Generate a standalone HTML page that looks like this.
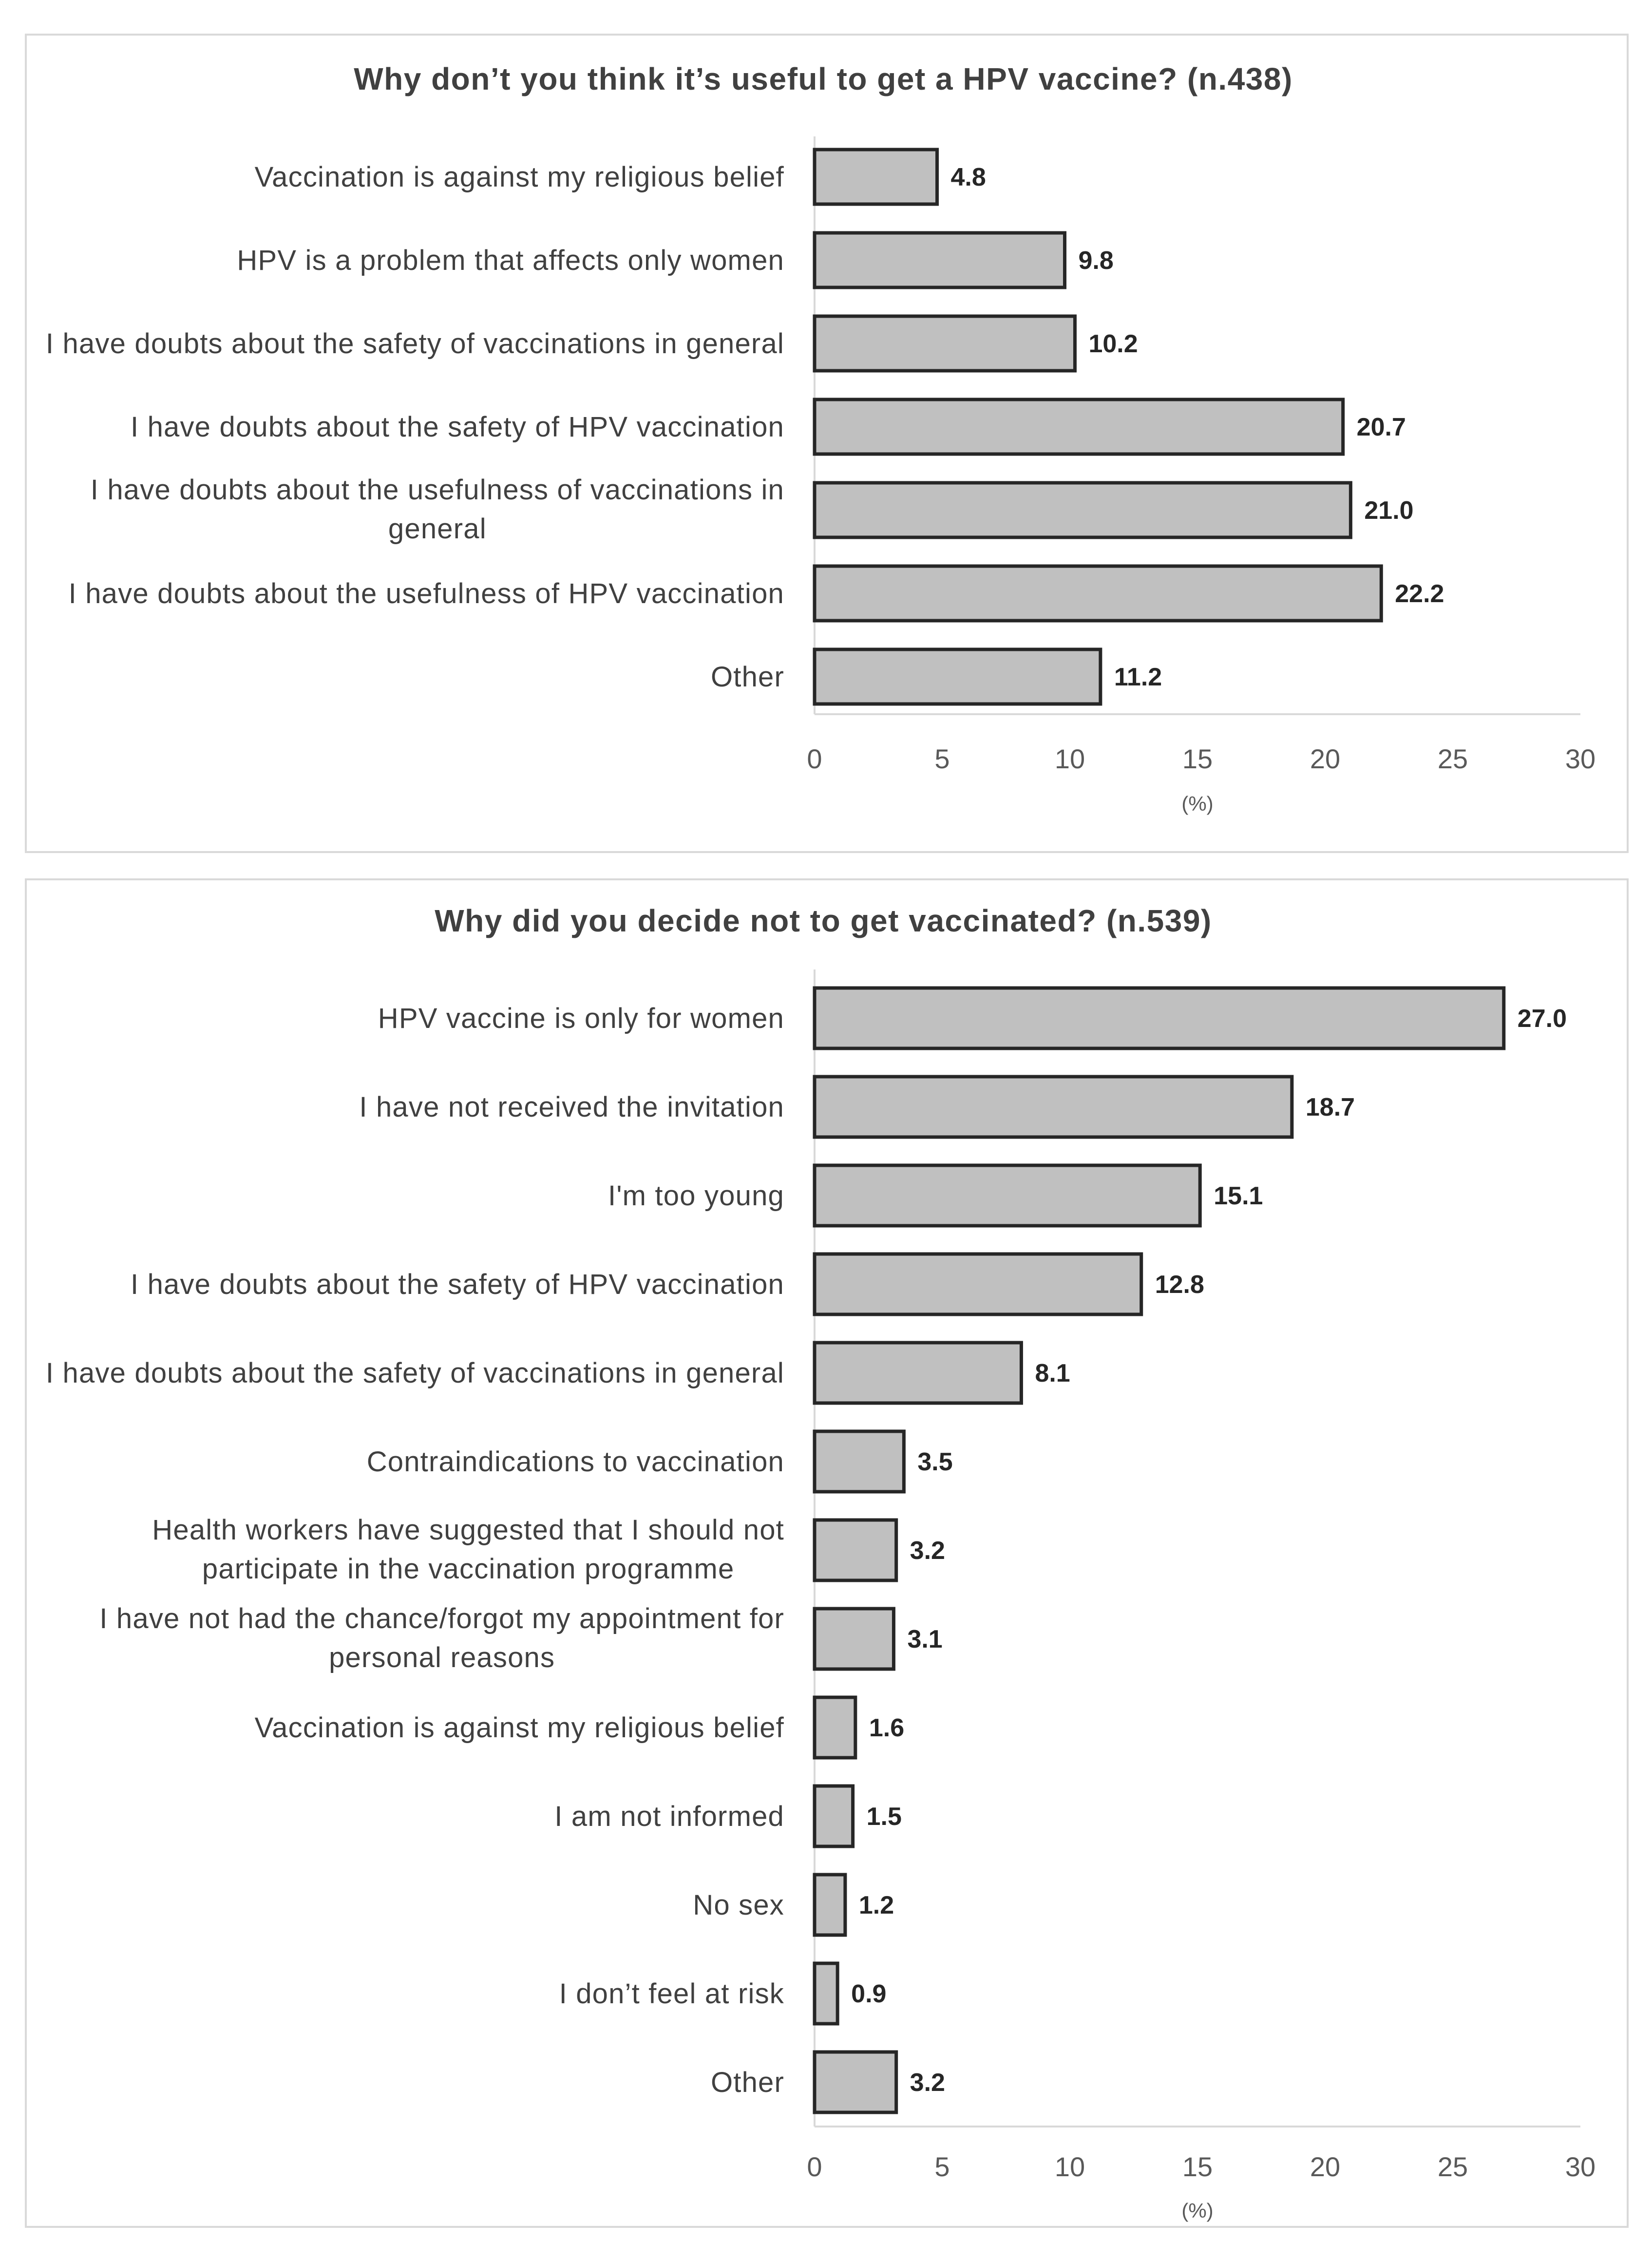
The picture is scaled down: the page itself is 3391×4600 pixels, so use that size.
<!DOCTYPE html>
<html><head><meta charset="utf-8">
<style>
html,body{margin:0;padding:0;background:#fff;}
svg{display:block;font-family:"Liberation Sans",sans-serif;}
</style></head>
<body>
<svg id="chart" width="3391" height="4600" viewBox="0 0 3391 4600" xmlns="http://www.w3.org/2000/svg">
<rect x="0" y="0" width="3391" height="4600" fill="#fff"/>
</svg>
<script>
const NS='http://www.w3.org/2000/svg';
const svg=document.getElementById('chart');

const categories1=[["Vaccination is against my religious belief"],["HPV is a problem that affects only women"],["I have doubts about the safety of vaccinations in general"],["I have doubts about the safety of HPV vaccination"],["I have doubts about the usefulness of vaccinations in","general"],["I have doubts about the usefulness of HPV vaccination"],["Other"]];
const values1=[4.8,9.8,10.2,20.7,21.0,22.2,11.2];
const valueLabels1=["4.8","9.8","10.2","20.7","21.0","22.2","11.2"];

const categories2=[["HPV vaccine is only for women"],["I have not received the invitation"],["I'm too young"],["I have doubts about the safety of HPV vaccination"],["I have doubts about the safety of vaccinations in general"],["Contraindications to vaccination"],["Health workers have suggested that I should not","participate in the vaccination programme"],["I have not had the chance/forgot my appointment for","personal reasons"],["Vaccination is against my religious belief"],["I am not informed"],["No sex"],["I don\u2019t feel at risk"],["Other"]];
const values2=[27.0,18.7,15.1,12.8,8.1,3.5,3.2,3.1,1.6,1.5,1.2,0.9,3.2];
const valueLabels2=["27.0","18.7","15.1","12.8","8.1","3.5","3.2","3.1","1.6","1.5","1.2","0.9","3.2"];

const xTicks=[0,5,10,15,20,25,30];
const xTickLabels=["0","5","10","15","20","25","30"];

function mk(tag,attrs,parent){const e=document.createElementNS(NS,tag);for(const k in attrs)e.setAttribute(k,attrs[k]);(parent||svg).appendChild(e);return e;}

function drawChart(cfg,cats,vals,labels,prefix){
  const g=mk('g',{});
  
  
  const frame=mk('rect',{x:cfg.fx,y:cfg.fy,width:cfg.fw,height:cfg.fh,fill:'#fff',stroke:'#d9d9d9','stroke-width':4},g);
  
  
  const t=mk('text',{x:1690,y:cfg.titleY,'text-anchor':'middle','font-size':64,'font-weight':'bold',fill:'#404040','letter-spacing':1.5},g);
  t.textContent=cfg.title;
  
  
  const x0=1672,x1=3244;
  const xs=v=>x0+(v-0)/(30-0)*(x1-x0);
  const yc=i=>cfg.y0+i*cfg.step;
  const va=mk('line',{x1:x0,x2:x0,y1:cfg.axisTop,y2:cfg.axisY,stroke:'#d9d9d9','stroke-width':4},g);
  
  
  const ha=mk('line',{x1:x0,x2:x1,y1:cfg.axisY,y2:cfg.axisY,stroke:'#d9d9d9','stroke-width':4},g);
  
  
  xTicks.forEach((v,i)=>{
    const tl=mk('text',{x:xs(v),y:cfg.tickY,'text-anchor':'middle','font-size':56,fill:'#595959'},g);
    tl.textContent=xTickLabels[i];
    
    
  });
  const unit=mk('text',{x:xs(15),y:cfg.unitY,'text-anchor':'middle','font-size':42,fill:'#595959'},g);
  unit.textContent='(%)';
  
  
  vals.forEach((v,i)=>{
    const c=yc(i);
    const b=mk('rect',{x:x0,y:c-cfg.bh/2,width:xs(v)-x0,height:cfg.bh,fill:'#c0c0c0',stroke:'#262626','stroke-width':7},g);
    
    
    const vl=mk('text',{x:xs(v)+28,y:c+18,'font-size':52,'font-weight':'bold',fill:'#262626'},g);
    vl.textContent=labels[i];
    
    
    const lines=cats[i];
    const lg=mk('g',{},g);
    
    
    const st={'font-size':58,fill:'#404040','letter-spacing':1.2};
    if(lines.length===1){
      const tt=mk('text',Object.assign({x:1610,y:c+20,'text-anchor':'end'},st),lg);
      tt.textContent=lines[0];
    }else{
      const l1=mk('text',Object.assign({x:1610,y:c-22,'text-anchor':'end'},st),lg);
      l1.textContent=lines[0];
      const w=l1.getComputedTextLength();
      const l2=mk('text',Object.assign({x:1610-w/2,y:c+58,'text-anchor':'middle'},st),lg);
      l2.textContent=lines[1];
    }
  });
}

drawChart({fx:53,fy:71,fw:3288,fh:1678,title:'Why don\u2019t you think it\u2019s useful to get a HPV vaccine? (n.438)',titleY:184,
  y0:363,step:171,bh:112,axisTop:280,axisY:1466,tickY:1577,unitY:1664},categories1,values1,valueLabels1,'chart1');
drawChart({fx:53,fy:1805,fw:3288,fh:2766,title:'Why did you decide not to get vaccinated? (n.539)',titleY:1912,
  y0:2090,step:182,bh:124,axisTop:1990,axisY:4365,tickY:4467,unitY:4552},categories2,values2,valueLabels2,'chart2');
</script>
</body></html>
